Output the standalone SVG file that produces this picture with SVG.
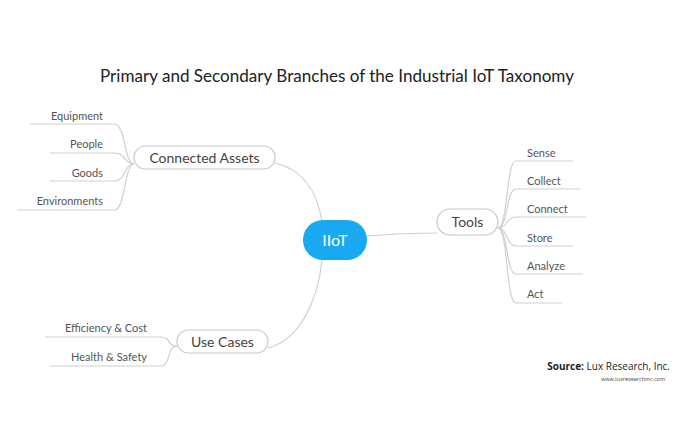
<svg xmlns="http://www.w3.org/2000/svg" width="688" height="421" viewBox="0 0 688 421">
<style>
text{font-family:"Lato","Open Sans","Liberation Sans",sans-serif;fill:#4a4a4a}
.t{font-size:16.5px;fill:#222}
.pill{fill:#fff;stroke:#c8c8c8;stroke-width:1.2}
.pl{font-size:14px;text-anchor:middle;fill:#444}
.leaf{font-size:11px;fill:#555}
.ln{fill:none;stroke:#cfcfcf;stroke-width:1.2}
</style>
<rect width="688" height="421" fill="#fff"/>
<text class="t" x="100" y="82" textLength="474" lengthAdjust="spacingAndGlyphs">Primary and Secondary Branches of the Industrial IoT Taxonomy</text>
<g id="connectors">
<path class="ln" d="M275,163 C305,170 318,195 322,222"/>
<path class="ln" d="M367,236 C390,234 410,233 437,233"/>
<path class="ln" d="M268,348 C300,340 318,300 322,260"/>
<path class="ln" d="M134,164 C124,164 126,124 114,124 L30,124"/>
<path class="ln" d="M134,164 C124,164 126,153 114,153 L50,153"/>
<path class="ln" d="M134,164 C124,164 126,181 114,181 L50,181"/>
<path class="ln" d="M134,164 C124,164 126,210 114,210 L17,210"/>
<path class="ln" d="M498,228 C508,228 506,161 516,161 L573,161"/>
<path class="ln" d="M498,228 C508,228 506,189 516,189 L580,189"/>
<path class="ln" d="M498,228 C508,228 506,217 516,217 L586,217"/>
<path class="ln" d="M498,228 C508,228 506,246 516,246 L573,246"/>
<path class="ln" d="M498,228 C508,228 506,274 516,274 L583,274"/>
<path class="ln" d="M498,228 C508,228 506,303 516,303 L562,303"/>
<path class="ln" d="M177,346 C166,346 172,337 160,337 L45,337"/>
<path class="ln" d="M177,346 C166,346 172,366 160,366 L50,366"/>
</g>
<g id="iiot">
<rect x="303" y="220" width="64" height="40" rx="20" fill="#19a9f0"/>
<text x="335" y="246" text-anchor="middle" font-size="16" style="fill:#fff">IIoT</text>
</g>
<g id="connected-assets">
<rect class="pill" x="134" y="146" width="141" height="23" rx="11.5"/>
<text class="pl" x="204.5" y="162.5">Connected Assets</text>
</g>
<g id="tools">
<rect class="pill" x="437" y="209" width="61" height="26" rx="13"/>
<text class="pl" x="467.5" y="227">Tools</text>
</g>
<g id="use-cases">
<rect class="pill" x="177" y="330" width="91" height="23" rx="11.5"/>
<text class="pl" x="222.5" y="346.5">Use Cases</text>
</g>
<g id="equipment"><text class="leaf" x="103" y="120" text-anchor="end">Equipment</text></g>
<g id="people"><text class="leaf" x="103" y="148" text-anchor="end">People</text></g>
<g id="goods"><text class="leaf" x="103" y="177" text-anchor="end">Goods</text></g>
<g id="environments"><text class="leaf" x="103" y="205" text-anchor="end">Environments</text></g>
<g id="sense"><text class="leaf" x="527" y="157">Sense</text></g>
<g id="collect"><text class="leaf" x="527" y="185">Collect</text></g>
<g id="connect"><text class="leaf" x="527" y="213">Connect</text></g>
<g id="store"><text class="leaf" x="527" y="242">Store</text></g>
<g id="analyze"><text class="leaf" x="527" y="270">Analyze</text></g>
<g id="act"><text class="leaf" x="527" y="298">Act</text></g>
<g id="efficiency"><text class="leaf" x="147" y="332" text-anchor="end">Efficiency &amp; Cost</text></g>
<g id="health"><text class="leaf" x="147" y="361" text-anchor="end">Health &amp; Safety</text></g>
<text x="670" y="370" text-anchor="end" font-size="10" style="fill:#222;font-family:'Open Sans','Liberation Sans',sans-serif"><tspan font-weight="bold">Source:</tspan> Lux Research, Inc.</text>
<text x="665" y="381" text-anchor="end" font-size="5.5" style="fill:#444;font-family:'Open Sans','Liberation Sans',sans-serif">www.luxresearchinc.com</text>
</svg>
